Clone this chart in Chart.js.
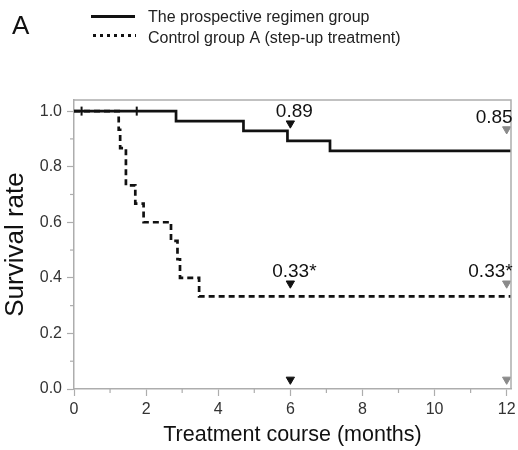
<!DOCTYPE html>
<html>
<head>
<meta charset="utf-8">
<script src="https://cdn.jsdelivr.net/npm/chart.js@4/dist/chart.umd.min.js"></script>
<style>
  html, body { margin: 0; padding: 0; background: #fff; }
  #wrap { width: 518px; height: 450px; position: relative; }
</style>
</head>
<body>
<div id="wrap"><canvas id="c" width="518" height="450"></canvas></div>
<script>
// ---- data ----
const seriesNames = ['The prospective regimen group', 'Control group A (step-up treatment)'];
const solidTimes = [0, 2.83, 4.70, 5.92, 7.10, 12.12];
const solidSurv  = [1, 0.964, 0.929, 0.893, 0.857, 0.857];
const dashTimes  = [0, 1.24, 1.28, 1.44, 1.70, 1.93, 2.69, 2.87, 2.94, 3.47, 12.12];
const dashSurv   = [1, 0.933, 0.867, 0.733, 0.667, 0.6, 0.533, 0.467, 0.4, 0.333, 0.333];
const censorTimes = [0.21, 1.74];
const censorSurv  = [1, 1];
const mark6Values  = [0.956, 0.38, 0.034];
const mark6Labels  = ['0.89', '0.33*', ''];
const mark12Values = [0.935, 0.38, 0.034];
const mark12Labels = ['0.85', '0.33*', ''];
const xTicks = [0, 2, 4, 6, 8, 10, 12];
const xMinorTicks = [1, 3, 5, 7, 9, 11];
const yTicks = [0, 0.2, 0.4, 0.6, 0.8, 1.0];
const yMinorTicks = [0.1, 0.3, 0.5, 0.7, 0.9];

const FONT = '"Liberation Sans", Arial, sans-serif';
const AXIS = '#adadad';

const toPts = (xs, ys) => xs.map((x, i) => ({x: x, y: ys[i]}));

const extras = {
  id: 'extras',
  afterDatasetsDraw(chart) {
    const ctx = chart.ctx;
    const xs = chart.scales.x, ys = chart.scales.y;
    const a = chart.chartArea;
    ctx.save();
    // frame top/right
    ctx.strokeStyle = AXIS;
    ctx.lineWidth = 1.5;
    ctx.beginPath();
    ctx.moveTo(a.left, a.top); ctx.lineTo(a.right, a.top); ctx.lineTo(a.right, a.bottom);
    ctx.stroke();
    // minor ticks
    ctx.lineWidth = 1.2;
    xMinorTicks.forEach(v => {
      const px = xs.getPixelForValue(v);
      ctx.beginPath(); ctx.moveTo(px, a.bottom); ctx.lineTo(px, a.bottom + 4); ctx.stroke();
    });
    yMinorTicks.forEach(v => {
      const py = ys.getPixelForValue(v);
      ctx.beginPath(); ctx.moveTo(a.left, py); ctx.lineTo(a.left - 4, py); ctx.stroke();
    });
    // value labels
    ctx.fillStyle = '#111';
    ctx.font = '19px ' + FONT;
    ctx.textBaseline = 'alphabetic';
    mark6Values.forEach((v, i) => {
      if (!mark6Labels[i]) return;
      ctx.textAlign = 'center';
      ctx.fillText(mark6Labels[i], xs.getPixelForValue(6) + 4, ys.getPixelForValue(v) - 6.5);
    });
    mark12Values.forEach((v, i) => {
      if (!mark12Labels[i]) return;
      ctx.textAlign = 'right';
      ctx.fillText(mark12Labels[i], xs.getPixelForValue(12) + 6, ys.getPixelForValue(v) - 6.5);
    });
    ctx.restore();
  },
  afterDraw(chart) {
    const ctx = chart.ctx;
    ctx.save();
    ctx.fillStyle = '#111';
    ctx.textBaseline = 'alphabetic';
    ctx.textAlign = 'left';
    ctx.font = '26px ' + FONT;
    ctx.fillText('A', 12, 34);
    // legend
    ctx.strokeStyle = '#111';
    ctx.lineWidth = 3;
    ctx.beginPath(); ctx.moveTo(91, 16.5); ctx.lineTo(135, 16.5); ctx.stroke();
    ctx.setLineDash([3, 4]);
    ctx.beginPath(); ctx.moveTo(93, 35.5); ctx.lineTo(136, 35.5); ctx.stroke();
    ctx.setLineDash([]);
    ctx.font = '16px ' + FONT;
    ctx.fillStyle = '#222';
    ctx.fillText(seriesNames[0], 148, 21.5);
    ctx.fillText(seriesNames[1], 148, 43);
    ctx.restore();
  }
};

new Chart(document.getElementById('c'), {
  type: 'scatter',
  data: {
    datasets: [
      {
        label: seriesNames[1],
        data: toPts(dashTimes, dashSurv),
        showLine: true, stepped: true,
        borderColor: '#111', borderWidth: 2.7, borderDash: [6, 4],
        pointRadius: 0, order: 2
      },
      {
        label: seriesNames[0],
        data: toPts(solidTimes, solidSurv),
        showLine: true, stepped: true,
        borderColor: '#111', borderWidth: 2.7,
        pointRadius: 0, order: 1
      },
      {
        label: 'censored',
        data: toPts(censorTimes, censorSurv),
        showLine: false,
        pointStyle: 'line', rotation: 90, pointRadius: 4.5,
        borderColor: '#111', borderWidth: 2, order: 0
      },
      {
        label: 'mark6',
        data: mark6Values.map(v => ({x: 6, y: v})),
        showLine: false,
        pointStyle: 'triangle', rotation: 180, pointRadius: 4.8,
        backgroundColor: '#111', borderColor: '#111', borderWidth: 1, order: 0
      },
      {
        label: 'mark12',
        data: mark12Values.map(v => ({x: 12, y: v})),
        showLine: false,
        pointStyle: 'triangle', rotation: 180, pointRadius: 4.8,
        backgroundColor: '#8a8a8a', borderColor: '#8a8a8a', borderWidth: 1, order: 0
      }
    ]
  },
  options: {
    responsive: false,
    animation: false,
    events: [],
    layout: { padding: { top: 100, right: 7, left: 0, bottom: 0 } },
    plugins: { legend: { display: false }, tooltip: { enabled: false } },
    scales: {
      x: {
        type: 'linear', min: 0, max: 12.12,
        afterBuildTicks: s => { s.ticks = xTicks.map(v => ({value: v})); },
        afterFit: s => { s.height = 61; s.paddingLeft = 0; s.paddingRight = 0; },
        grid: { display: true, drawOnChartArea: false, drawTicks: true, tickLength: 7, tickColor: AXIS, tickWidth: 1.2 },
        border: { display: true, color: AXIS, width: 1.5 },
        ticks: { color: '#333', font: { family: FONT, size: 16 }, padding: 4, maxRotation: 0,
                 callback: v => String(v) },
        title: { display: true, text: 'Treatment course (months)', color: '#111',
                 font: { family: FONT, size: 21.5 }, padding: { top: 0, bottom: 2.5 } }
      },
      y: {
        type: 'linear', min: 0, max: 1.04,
        afterBuildTicks: s => { s.ticks = yTicks.map(v => ({value: v})); },
        afterFit: s => { s.width = 74; },
        grid: { display: true, drawOnChartArea: false, drawTicks: true, tickLength: 7, tickColor: AXIS, tickWidth: 1.2 },
        border: { display: true, color: AXIS, width: 1.5 },
        ticks: { color: '#333', font: { family: FONT, size: 16 }, padding: 5,
                 callback: v => v.toFixed(1) },
        title: { display: true, text: 'Survival rate', color: '#111',
                 font: { family: FONT, size: 26 }, padding: { top: 0.5, bottom: 0 } }
      }
    }
  },
  plugins: [extras]
});
</script>
</body>
</html>
